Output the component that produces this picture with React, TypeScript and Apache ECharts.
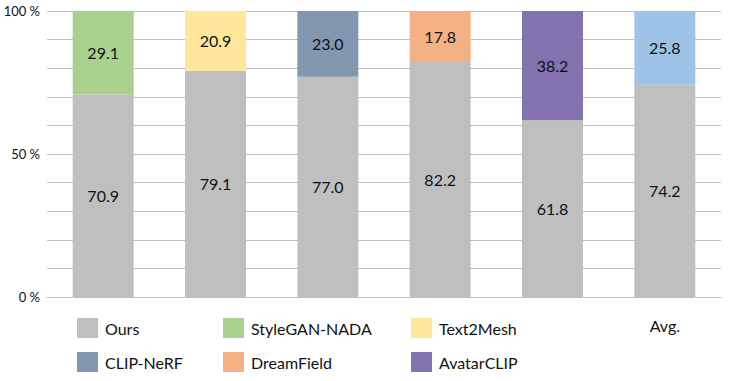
import React, { useEffect, useRef } from "react";
import * as echarts from "echarts";

const categories = ["StyleGAN-NADA", "Text2Mesh", "CLIP-NeRF", "DreamField", "AvatarCLIP", "Avg."];
const oursValues = [70.9, 79.1, 77.0, 82.2, 61.8, 74.2];
const otherNames = ["StyleGAN-NADA", "Text2Mesh", "CLIP-NeRF", "DreamField", "AvatarCLIP", "Avg"];
const otherValues = [29.1, 20.9, 23.0, 17.8, 38.2, 25.8];
const otherColors = ["#A9D18E", "#FFE699", "#8497B0", "#F4B183", "#8273AE", "#9DC3E6"];
const oursColor = "#BFBFBF";
const yTickLabels: Record<number, string> = { 0: "0 %", 50: "50 %", 100: "100 %" };

const FONT = "Lato, 'Open Sans', sans-serif";

export default function App() {
  const ref = useRef<HTMLDivElement>(null);
  useEffect(() => {
    if (!ref.current) return;
    const chart = echarts.init(ref.current, undefined, { renderer: "svg" });
    const labelCfg = {
      show: true,
      position: "inside" as const,
      color: "#111",
      fontSize: 16,
      fontFamily: FONT,
      formatter: (p: any) => (p.value == null ? "" : Number(p.value).toFixed(1)),
    };
    const series: any[] = [
      {
        name: "Ours",
        type: "bar",
        stack: "s",
        barWidth: 61,
        data: oursValues,
        itemStyle: { color: oursColor },
        label: labelCfg,
      },
      ...otherNames.map((n, i) => ({
        name: n,
        type: "bar",
        stack: "s",
        barWidth: 61,
        data: categories.map((_, j) => (j === i ? otherValues[i] : null)),
        itemStyle: { color: otherColors[i] },
        label: labelCfg,
      })),
    ];
    const legendBase = {
      orient: "vertical" as const,
      top: 313,
      itemWidth: 21,
      itemHeight: 20,
      itemGap: 14,
      icon: "rect",
      textStyle: { fontSize: 16, fontFamily: FONT, color: "#111", padding: [0, 0, 0, 2] },
      selectedMode: false,
    };
    chart.setOption({
      animation: false,
      grid: { left: 47, right: 8, top: 11, bottom: 84 },
      legend: [
        { ...legendBase, left: 72, data: ["Ours", "CLIP-NeRF"] },
        { ...legendBase, left: 218, data: ["StyleGAN-NADA", "DreamField"] },
        { ...legendBase, left: 406, data: ["Text2Mesh", "AvatarCLIP"] },
      ],
      xAxis: {
        type: "category",
        data: categories,
        axisLine: { show: true, lineStyle: { color: "#BFBFBF" } },
        axisTick: { show: false },
        axisLabel: {
          margin: 20,
          fontSize: 16,
          fontFamily: FONT,
          color: "#111",
          formatter: (v: string) => (v === "Avg." ? "Avg." : ""),
        },
      },
      yAxis: {
        type: "value",
        min: 0,
        max: 100,
        interval: 10,
        axisLine: { show: false },
        axisTick: { show: false },
        splitLine: { lineStyle: { color: "#BFBFBF", width: 1 } },
        axisLabel: {
          margin: 7,
          fontSize: 13,
          fontFamily: FONT,
          color: "#111",
          formatter: (v: number) => yTickLabels[v] ?? "",
        },
      },
      series,
    });
    return () => chart.dispose();
  }, []);
  return <div ref={ref} style={{ width: 729, height: 381, position: "absolute", left: 0, top: 0 }} />;
}
